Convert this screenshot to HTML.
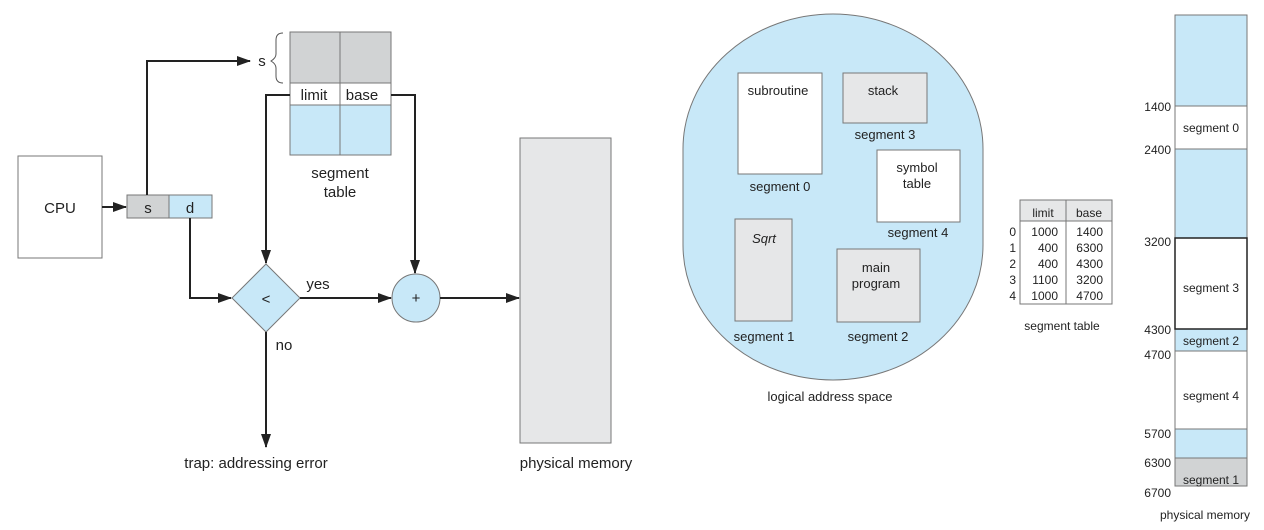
<!DOCTYPE html>
<html><head><meta charset="utf-8"><style>
html,body{margin:0;padding:0;background:#fff;}
svg{display:block;font-family:"Liberation Sans",Arial,sans-serif;}
</style></head><body>
<svg width="1264" height="530" viewBox="0 0 1264 530" xmlns="http://www.w3.org/2000/svg">
<defs>
<marker id="a" markerWidth="14" markerHeight="10" refX="13" refY="5" orient="auto" markerUnits="userSpaceOnUse">
<path d="M0,0 L14,5 L0,10 z" fill="#222"/></marker>
</defs>
<g stroke="#777" stroke-width="1">
<rect x="18" y="156" width="84" height="102" fill="#fff"/>
<rect x="127" y="195" width="42" height="23" fill="#d1d3d4"/>
<rect x="169" y="195" width="43" height="23" fill="#c8e8f8"/>
<rect x="290" y="32" width="101" height="51" fill="#d1d3d4"/>
<rect x="290" y="83" width="101" height="22" fill="#fff"/>
<rect x="290" y="105" width="101" height="50" fill="#c8e8f8"/>
<line x1="340" y1="32" x2="340" y2="155"/>
<polygon points="266,264 300,298 266,332 232,298" fill="#c8e8f8"/>
<circle cx="416" cy="298" r="24" fill="#c8e8f8"/>
<rect x="520" y="138" width="91" height="305" fill="#e6e7e8"/>
</g>
<path d="M283,33 Q276,33 276,40 L276,54 Q276,58 271,61 Q276,64 276,68 L276,76 Q276,83 283,83" fill="none" stroke="#555" stroke-width="1"/>
<g stroke="#222" stroke-width="2" fill="none">
<line x1="102" y1="207" x2="126" y2="207" marker-end="url(#a)"/>
<polyline points="147,195 147,61 250,61" marker-end="url(#a)"/>
<polyline points="290,95 266,95 266,263" marker-end="url(#a)"/>
<polyline points="391,95 415,95 415,273" marker-end="url(#a)"/>
<polyline points="190,218 190,298 231,298" marker-end="url(#a)"/>
<line x1="300" y1="298" x2="391" y2="298" marker-end="url(#a)"/>
<line x1="440" y1="298" x2="519" y2="298" marker-end="url(#a)"/>
<line x1="266" y1="332" x2="266" y2="447" marker-end="url(#a)"/>
</g>
<g fill="#222" font-size="15" text-anchor="middle">
<text x="60" y="213">CPU</text>
<text x="148" y="213">s</text>
<text x="190" y="213">d</text>
<text x="262" y="66">s</text>
<text x="314" y="100">limit</text>
<text x="362" y="100">base</text>
<text x="340" y="178">segment</text>
<text x="340" y="197">table</text>
<text x="266" y="304">&lt;</text>
<text x="416" y="303">+</text>
<text x="318" y="289">yes</text>
<text x="284" y="350">no</text>
<text x="256" y="468">trap: addressing error</text>
<text x="576" y="468">physical memory</text>
</g>
<rect x="683" y="14" width="300" height="366" rx="150" ry="135" fill="#c8e8f8" stroke="#777"/>
<g stroke="#777">
<rect x="738" y="73" width="84" height="101" fill="#fff"/>
<rect x="843" y="73" width="84" height="50" fill="#e6e7e8"/>
<rect x="877" y="150" width="83" height="72" fill="#fff"/>
<rect x="735" y="219" width="57" height="102" fill="#e6e7e8"/>
<rect x="837" y="249" width="83" height="73" fill="#e6e7e8"/>
</g>
<g fill="#222" font-size="13" text-anchor="middle">
<text x="778" y="95">subroutine</text>
<text x="883" y="95">stack</text>
<text x="917" y="172">symbol</text>
<text x="917" y="188">table</text>
<text x="764" y="243" font-style="italic">Sqrt</text>
<text x="876" y="272">main</text>
<text x="876" y="288">program</text>
<text x="780" y="191">segment 0</text>
<text x="885" y="139">segment 3</text>
<text x="918" y="237">segment 4</text>
<text x="764" y="341">segment 1</text>
<text x="878" y="341">segment 2</text>
<text x="830" y="401">logical address space</text>
</g>
<g stroke="#777">
<rect x="1020" y="200" width="92" height="21" fill="#e6e7e8"/>
<rect x="1020" y="221" width="92" height="83" fill="#fff"/>
<line x1="1066" y1="200" x2="1066" y2="304"/>
</g>
<g fill="#222" font-size="12">
<text x="1043" y="217" text-anchor="middle">limit</text>
<text x="1089" y="217" text-anchor="middle">base</text>
<g text-anchor="end">
<text x="1016" y="236">0</text><text x="1016" y="252">1</text><text x="1016" y="268">2</text><text x="1016" y="284">3</text><text x="1016" y="300">4</text>
<text x="1058" y="236">1000</text><text x="1058" y="252">400</text><text x="1058" y="268">400</text><text x="1058" y="284">1100</text><text x="1058" y="300">1000</text>
<text x="1103" y="236">1400</text><text x="1103" y="252">6300</text><text x="1103" y="268">4300</text><text x="1103" y="284">3200</text><text x="1103" y="300">4700</text>
</g>
<text x="1062" y="330" text-anchor="middle">segment table</text>
</g>
<g stroke="#777">
<rect x="1175" y="15" width="72" height="471" fill="#c8e8f8"/>
<rect x="1175" y="106" width="72" height="43" fill="#fff"/>
<rect x="1175" y="351" width="72" height="78" fill="#fff"/>
<rect x="1175" y="458" width="72" height="28" fill="#d1d3d4"/>
<rect x="1175" y="238" width="72" height="91" fill="#fff" stroke="#222" stroke-width="1.5"/>
</g>
<g fill="#222" font-size="12">
<g text-anchor="middle">
<text x="1211" y="132">segment 0</text>
<text x="1211" y="292">segment 3</text>
<text x="1211" y="345">segment 2</text>
<text x="1211" y="400">segment 4</text>
<text x="1211" y="484">segment 1</text>
<text x="1205" y="519">physical memory</text>
</g>
<g text-anchor="end">
<text x="1171" y="111">1400</text>
<text x="1171" y="154">2400</text>
<text x="1171" y="246">3200</text>
<text x="1171" y="334">4300</text>
<text x="1171" y="359">4700</text>
<text x="1171" y="438">5700</text>
<text x="1171" y="467">6300</text>
<text x="1171" y="497">6700</text>
</g>
</g>
</svg>
</body></html>
